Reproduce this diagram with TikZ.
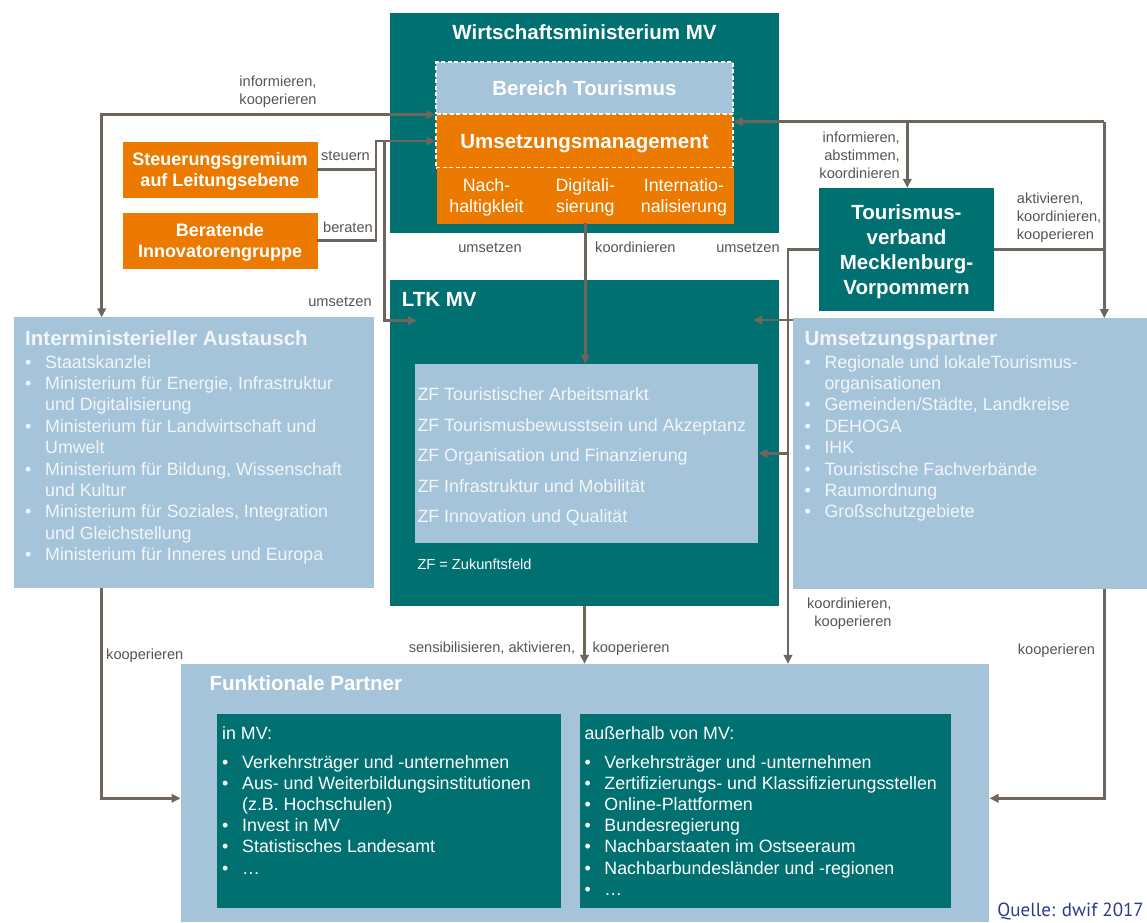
\documentclass[tikz,border=0pt]{standalone}
\usepackage{fontspec}
\setmainfont{Liberation Sans}
\newfontfamily\qfont{PT Sans}
\usepackage{tikz}
\usetikzlibrary{arrows.meta}
\definecolor{lt_teal}{RGB}{0,112,112}
\definecolor{lt_blue}{RGB}{166,196,217}
\definecolor{lt_orange}{RGB}{236,121,0}
\definecolor{lt_line}{RGB}{110,101,93}
\definecolor{lt_label}{RGB}{85,85,85}
\definecolor{lt_white}{RGB}{242,246,250}
\definecolor{lt_src}{RGB}{46,58,140}
\tikzstyle{tb}=[rectangle,fill=lt_teal,inner sep=0pt]
\tikzstyle{bb}=[rectangle,fill=lt_blue,inner sep=0pt]
\tikzstyle{ob}=[rectangle,fill=lt_orange,draw=lt_orange,line width=0.4pt,
  text=white,inner sep=0pt,align=center,text depth=0pt]
\tikzstyle{db}=[draw=white,dash pattern=on 4pt off 2.5pt,line width=1.3pt]
\tikzstyle{hd}=[text=white,inner sep=0pt,align=center,
  font=\fontsize{20.5}{25}\selectfont\bfseries]
\tikzstyle{tx}=[text=lt_white,inner sep=0pt,anchor=base west,
  font=\fontsize{17.8}{21.4}\selectfont]
\tikzstyle{lb}=[text=lt_label,inner sep=0pt,font=\fontsize{14.6}{17.8}\selectfont]
\tikzstyle{ln}=[draw=lt_line,line width=2.7pt]
\tikzstyle{ar}=[draw=lt_line,line width=2.7pt,->]
\newcommand{\itm}[1]{\makebox[20pt][l]{\textbullet}#1}
\newcommand{\cnt}[1]{\hspace*{20pt}#1}
\newcommand{\hdr}[1]{{\fontsize{20.5}{21.4}\selectfont\bfseries #1}}

\begin{document}
\begin{tikzpicture}[x=1pt,y=-1pt,>={Triangle[length=9pt,width=8.5pt]}]
    \useasboundingbox (0,0) rectangle (1147,922);
    % boxes
    \node [style=tb,minimum width=389pt,minimum height=220pt] (wm) at (584.5,123) {};
    \node [style=hd] (wmt) at (584.5,32) {Wirtschaftsministerium MV};
    \node [style=bb,style=db,style=hd,minimum width=297pt,minimum height=52pt] (bt) at (584.5,88) {Bereich Tourismus};
    \node [style=ob,style=db,style=hd,minimum width=297pt,minimum height=54pt] (um) at (584.5,141) {Umsetzungsmanagement};
    \node [style=ob,minimum width=98.7pt,minimum height=55pt,font=\fontsize{17.8}{21}\selectfont] (n1) at (486.5,195.5) {Nach-\\haltigkleit};
    \node [style=ob,minimum width=98.7pt,minimum height=55pt,font=\fontsize{17.8}{21}\selectfont] (n2) at (585.3,195.5) {Digitali-\\sierung};
    \node [style=ob,minimum width=98.7pt,minimum height=55pt,font=\fontsize{17.8}{21}\selectfont] (n3) at (683.9,195.5) {Internatio-\\nalisierung};
    \node [style=ob,style=hd,minimum width=194pt,minimum height=55pt,font=\fontsize{18}{21}\selectfont\bfseries] (sg) at (220,169.5) {Steuerungsgremium\\auf Leitungsebene};
    \node [style=ob,style=hd,minimum width=194pt,minimum height=55pt,font=\fontsize{18}{21}\selectfont\bfseries] (bi) at (220,240.5) {Beratende\\Innovatorengruppe};
    \node [style=tb,style=hd,text depth=0pt,minimum width=175pt,minimum height=123pt] (tv) at (906.5,249.5) {Tourismus-\\verband\\Mecklenburg-\\Vorpommern};

    \node [style=bb,minimum width=360pt,minimum height=271pt] (ia) at (194,452.5) {};
    \node [style=tx] (iat) at (25,345) {\begin{tabular}[t]{@{}l@{}}
      \hdr{Interministerieller Austausch}\\[1.6pt]
      \itm{Staatskanzlei}\\
      \itm{Ministerium für Energie, Infrastruktur}\\
      \cnt{und Digitalisierung}\\
      \itm{Ministerium für Landwirtschaft und}\\
      \cnt{Umwelt}\\
      \itm{Ministerium für Bildung, Wissenschaft}\\
      \cnt{und Kultur}\\
      \itm{Ministerium für Soziales, Integration}\\
      \cnt{und Gleichstellung}\\
      \itm{Ministerium für Inneres und Europa}
    \end{tabular}};

    \node [style=tb,minimum width=389pt,minimum height=325.7pt] (ltk) at (584.5,442.85) {};
    \node [style=hd,anchor=west] (ltkt) at (401.7,299.3) {LTK MV};
    \node [style=bb,minimum width=343.3pt,minimum height=178.7pt] (zf) at (586.65,453.35) {};
    \node [style=tx,font=\fontsize{17.8}{30.6}\selectfont] (zft) at (417.3,400.5) {\begin{tabular}[t]{@{}l@{}}
      ZF Touristischer Arbeitsmarkt\\
      ZF Tourismusbewusstsein und Akzeptanz\\
      ZF Organisation und Finanzierung\\
      ZF Infrastruktur und Mobilität\\
      ZF Innovation und Qualität
    \end{tabular}};
    \node [style=tx,text=white,font=\fontsize{14.6}{17}\selectfont] (zfn) at (417.3,569.5) {ZF = Zukunftsfeld};

    \node [style=bb,minimum width=353.7pt,minimum height=270.4pt] (up) at (970.15,453.5) {};
    \node [style=tx] (upt) at (804.3,345) {\begin{tabular}[t]{@{}l@{}}
      \hdr{Umsetzungspartner}\\[1.6pt]
      \itm{Regionale und lokaleTourismus-}\\
      \cnt{organisationen}\\
      \itm{Gemeinden/Städte, Landkreise}\\
      \itm{DEHOGA}\\
      \itm{IHK}\\
      \itm{Touristische Fachverbände}\\
      \itm{Raumordnung}\\
      \itm{Großschutzgebiete}
    \end{tabular}};

    \node [style=bb,minimum width=808.9pt,minimum height=258pt] (fp) at (584.95,793) {};
    \node [style=hd,anchor=base west] (fpt) at (209.4,690) {Funktionale Partner};
    \node [style=tb,minimum width=343.3pt,minimum height=194.3pt] (fp1) at (388.85,811.15) {};
    \node [style=tx,text=white,font=\fontsize{17.8}{21.2}\selectfont] (fp1t) at (222,739) {\begin{tabular}[t]{@{}l@{}}
      in MV:\\[7.8pt]
      \itm{Verkehrsträger und -unternehmen}\\
      \itm{Aus- und Weiterbildungsinstitutionen}\\
      \cnt{(z.B. Hochschulen)}\\
      \itm{Invest in MV}\\
      \itm{Statistisches Landesamt}\\
      \itm{…}
    \end{tabular}};
    \node [style=tb,minimum width=371.4pt,minimum height=194.3pt] (fp2) at (765.5,811.15) {};
    \node [style=tx,text=white,font=\fontsize{17.8}{21.2}\selectfont] (fp2t) at (584.3,739) {\begin{tabular}[t]{@{}l@{}}
      außerhalb von MV:\\[7.8pt]
      \itm{Verkehrsträger und -unternehmen}\\
      \itm{Zertifizierungs- und Klassifizierungsstellen}\\
      \itm{Online-Plattformen}\\
      \itm{Bundesregierung}\\
      \itm{Nachbarstaaten im Ostseeraum}\\
      \itm{Nachbarbundesländer und -regionen}\\
      \itm{…}
    \end{tabular}};

    % connectors
    \coordinate (c1) at (101.7,317.3);
    \coordinate (j1) at (376,141);
    \coordinate (j2) at (384.7,141);
    \coordinate (l1) at (417,320.5);
    \coordinate (k1) at (1104.3,121.7);
    \coordinate (k2) at (907.3,121.7);
    \coordinate (v1) at (788,249.5);
    \coordinate (l2) at (753.3,320);
    \coordinate (f1) at (180.5,798.3);
    \draw [style=ar,<->] (c1) |- (bt.south west);
    \draw [style=ar] (sg.east) -| (j1) -- (um.west);
    \draw [style=ln] (bi.east) -| (j1);
    \draw [style=ar] (j2) |- (l1);
    \draw [style=ar] (n2.south) -- (n2.south |- zf.north);
    \draw [style=ar] (k1) -- (um.east |- k1);
    \draw [style=ar] (k2) -- (k2 |- tv.north);
    \draw [style=ar] (k1) -- (k1 |- up.north);
    \draw [style=ln] (tv.east) -- (tv.east -| k1);
    \draw [style=ar] (tv.west) -| (v1 |- fp.north);
    \draw [style=ar] (up.west |- l2) -- (l2);
    \draw [style=ar] (v1 |- zf.east) -- (zf.east);
    \draw [style=ar] (c1 |- ia.south) |- (f1);
    \draw [style=ar] (k1 |- up.south) |- (fp.east |- f1);
    \draw [style=ar] (ltk.south) -- (ltk.south |- fp.north);

    % labels
    \node [style=lb,align=left] (a1) at (278,91.7) {informieren,\\kooperieren};
    \node [style=lb] (a2) at (345.5,156) {steuern};
    \node [style=lb] (a3) at (348,227) {beraten};
    \node [style=lb] (a4) at (340,302) {umsetzen};
    \node [style=lb] (a5) at (490,248) {umsetzen};
    \node [style=lb,anchor=west] (a6) at (595,247.3) {koordinieren};
    \node [style=lb] (a7) at (748,248.3) {umsetzen};
    \node [style=lb,align=right,anchor=east] (a8) at (900,155) {informieren,\\abstimmen,\\koordinieren};
    \node [style=lb,align=left,anchor=west] (a9) at (1016.7,217.8) {aktivieren,\\koordinieren,\\kooperieren};
    \node [style=lb,anchor=west] (a10) at (106,655.8) {kooperieren};
    \node [style=lb,anchor=east] (a11) at (575.3,648.3) {sensibilisieren, aktivieren,};
    \node [style=lb,anchor=west] (a12) at (592.3,648.3) {kooperieren};
    \node [style=lb,align=right,anchor=east] (a13) at (891.7,613.8) {koordinieren,\\kooperieren};
    \node [style=lb,anchor=west] (a14) at (1017.7,650.7) {kooperieren};
    \node [anchor=base east,inner sep=0pt,text=lt_src,font=\qfont\fontsize{19}{22}\selectfont] (src) at (1144,916) {Quelle: dwif 2017};
\end{tikzpicture}
\end{document}
